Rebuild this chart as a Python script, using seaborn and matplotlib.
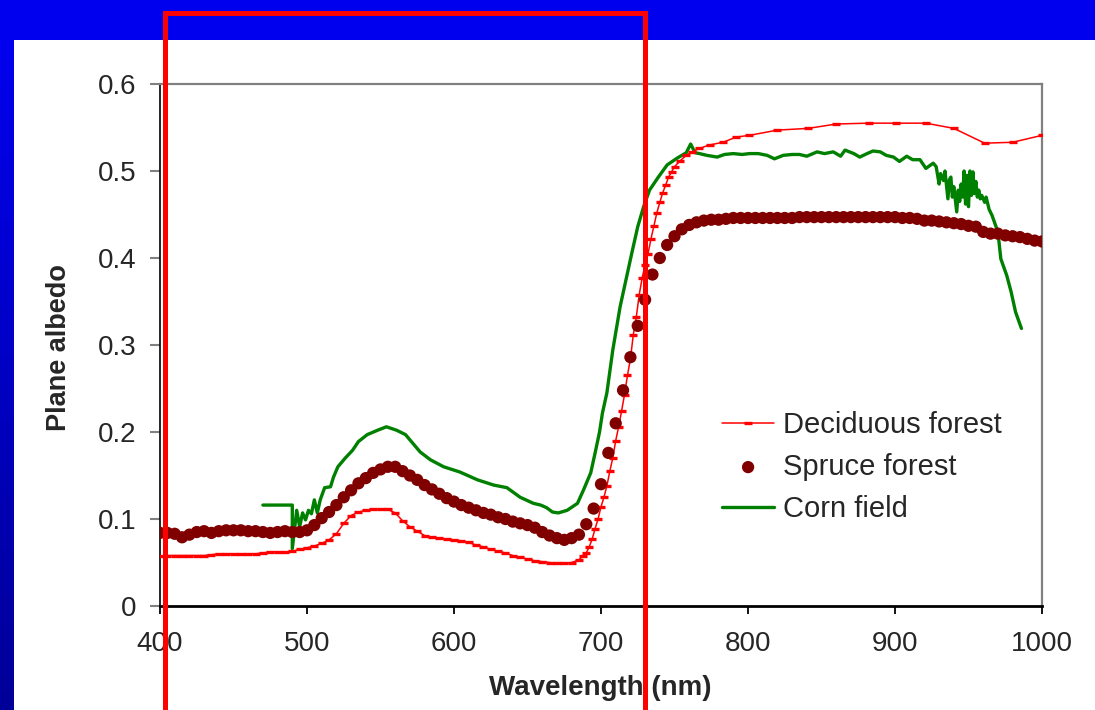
import numpy as np
import pandas as pd
import matplotlib
matplotlib.use("Agg")
import matplotlib.pyplot as plt
from matplotlib.patches import Rectangle
import seaborn as sns

# deciduous forest (red line with small dash markers)
dec_wl = [400, 405, 410, 415, 420, 425, 430, 435, 440, 445, 450, 455, 460, 465, 470, 475, 480, 485,
          490, 495, 500, 505, 510, 515, 520, 525, 530, 535, 540, 545, 550, 555, 560, 565, 570, 575,
          580, 585, 590, 595, 600, 605, 610, 615, 620, 625, 630, 635, 640, 645, 650, 655, 660, 665,
          670, 675, 680, 685, 688, 690, 692, 694, 696, 698, 700, 702, 704, 706, 708, 710, 712, 714,
          716, 718, 720, 722, 724, 726, 728, 730, 732, 734, 736, 738, 740, 742, 744, 746, 748, 750,
          754, 758, 762, 767, 774, 783, 792, 801, 820, 841, 860, 882, 901, 921, 940, 961, 980, 1000]
dec_val = [.057, .058, .058, .058, .058, .058, .058, .059, .060, .060, .060, .060, .060, .060, .061, .062, .062, .062,
           .063, .065, .067, .069, .072, .076, .083, .095, .104, .108, .110, .111, .111, .111, .107, .098, .091, .086,
           .081, .079, .078, .077, .076, .075, .073, .070, .068, .065, .063, .061, .058, .056, .054, .052, .051, .050,
           .049, .049, .050, .053, .058, .061, .068, .077, .089, .100, .114, .125, .138, .155, .170, .190, .206, .224,
           .243, .265, .284, .312, .332, .358, .377, .392, .405, .422, .437, .452, .464, .475, .484, .493, .499, .505,
           .512, .518, .522, .526, .530, .533, .539, .541, .547, .549, .554, .555, .555, .555, .549, .532, .533, .541]

# spruce forest (dark red dots, every 5 nm)
spr_wl = list(range(400, 1001, 5))
spr_val = [.084, .084, .083, .079, .082, .085, .086, .084, .086, .087, .087, .087, .086, .086, .085, .084,
           .085, .086, .085, .085, .087, .093, .101, .108, .116, .125, .133, .141, .147, .153, .157, .160,
           .160, .155, .150, .145, .139, .134, .129, .124, .120, .116, .113, .110, .107, .105, .102, .100,
           .097, .095, .093, .090, .085, .081, .078, .076, .078, .082, .094, .112, .140, .176, .210, .248,
           .286, .322, .352, .381, .400, .415, .425, .433, .438, .441, .443, .444, .444, .445, .446, .446,
           .446, .446, .446, .446, .446, .446, .446, .447, .447, .447, .447, .447, .447, .447, .447, .447,
           .447, .447, .447, .447, .447, .446, .446, .445, .443, .443, .442, .441, .440, .439, .437, .436,
           .430, .428, .428, .426, .425, .424, .422, .420, .419]

# corn field (green noisy line)
corn_wl = [470, 480, 490, 490, 493, 495, 497, 499, 501, 503, 505, 507, 509, 512, 516, 518, 521, 526,
           531, 535, 541, 548, 554, 561, 567, 572, 577, 584, 593, 604, 616, 627, 636, 645, 654, 659,
           663, 667, 671, 677, 684, 688, 693, 696, 699, 701, 704, 708, 713, 718, 721, 725, 729, 733,
           739, 745, 752, 758, 761, 764, 767, 772, 779, 784, 790, 796, 801, 807, 813, 818, 824, 830,
           835, 840, 847, 852, 858, 863, 866, 872, 876, 881, 885, 890, 894, 899, 903, 908, 912, 917,
           921, 926, 928, 930, 931, 933, 934, 936, 937, 938, 939, 940, 942, 943, 944, 945, 946, 947,
           948, 949, 950, 951, 952, 953, 954, 955, 956, 957, 958, 959, 961, 962, 964, 966, 970,
           972, 976, 979, 982, 986]
corn_val = [.116, .116, .116, .066, .110, .091, .107, .099, .110, .106, .122, .107, .122, .136, .137, .148, .160, .170,
            .179, .189, .197, .202, .206, .202, .197, .187, .177, .168, .160, .154, .145, .139, .136, .125, .118, .116,
            .113, .108, .107, .110, .118, .133, .153, .176, .200, .222, .245, .294, .344, .383, .406, .436, .459, .478,
            .493, .507, .515, .521, .531, .521, .520, .518, .516, .519, .520, .519, .520, .520, .518, .514, .518, .519,
            .519, .517, .522, .520, .522, .517, .524, .520, .516, .520, .523, .522, .518, .516, .511, .517, .513, .513,
            .503, .509, .505, .485, .497, .489, .500, .468, .490, .493, .470, .482, .453, .478, .465, .485, .470, .500,
            .462, .495, .459, .500, .472, .499, .474, .488, .470, .478, .468, .472, .464, .470, .456, .449, .430,
            .399, .380, .361, .338, .319]

x_ticks = [400, 500, 600, 700, 800, 900, 1000]
y_ticks = [0, 0.1, 0.2, 0.3, 0.4, 0.5, 0.6]

sns.set_style("white")
plt.rcParams['font.family'] = ['Liberation Sans', 'DejaVu Sans']

W, H = 1095, 710
fig = plt.figure(figsize=(W / 100, H / 100), dpi=100)
fig.patch.set_facecolor("white")

# blue slide background: top band + left gradient strip
fig.patches.append(Rectangle((0, 1 - 40 / H), 1, 40 / H, transform=fig.transFigure,
                             facecolor="#0000EE", edgecolor="none", zorder=-5))
bg = fig.add_axes([0, 0, 14 / W, 1 - 40 / H], zorder=-4)
grad = np.linspace(1, 0, 100).reshape(-1, 1)
bg.imshow(grad, aspect="auto", cmap=matplotlib.colors.LinearSegmentedColormap.from_list(
    "b", ["#000098", "#0000EE"]), extent=[0, 1, 0, 1])
bg.set_axis_off()

ax = fig.add_axes([160 / W, 1 - 606 / H, 882 / W, 522 / H])
ax.set_facecolor("white")

df_dec = pd.DataFrame({"wl": dec_wl, "val": dec_val})
df_spr = pd.DataFrame({"wl": spr_wl, "val": spr_val})
df_corn = pd.DataFrame({"wl": corn_wl, "val": corn_val})

sns.lineplot(data=df_dec, x="wl", y="val", ax=ax, estimator=None, sort=False,
             color="#FF0000", lw=1.1, marker="_", markersize=5.5, markeredgewidth=2.4,
             markeredgecolor="#FF0000", label="Deciduous forest", zorder=3)
sns.scatterplot(data=df_spr, x="wl", y="val", ax=ax, color="#800000", s=78,
                edgecolor="none", label="Spruce forest", zorder=4)
sns.lineplot(data=df_corn, x="wl", y="val", ax=ax, estimator=None, sort=False,
             color="#008000", lw=2.4, label="Corn field", zorder=2)

ax.set_xlim(400, 1000)
ax.set_ylim(0, 0.6)
ax.set_xticks(x_ticks)
ax.set_yticks(y_ticks)
ax.set_xticklabels([str(v) for v in x_ticks])
ax.set_yticklabels([f"{v:g}" for v in y_ticks])
ax.set_xlabel("")
ax.set_ylabel("")
ax.tick_params(axis="x", direction="out", length=6, width=1.3, color="black",
               labelsize=20, pad=12, bottom=True)
ax.tick_params(axis="y", direction="out", length=7, width=1.5, color="#808080",
               labelsize=20, pad=10, left=True)
for s in ["top", "right"]:
    ax.spines[s].set_color("#808080")
    ax.spines[s].set_linewidth(1.6)
ax.spines["left"].set_color("black")
ax.spines["left"].set_linewidth(1.2)
ax.spines["bottom"].set_color("black")
ax.spines["bottom"].set_linewidth(2)

leg = ax.legend(loc="upper left", bbox_to_anchor=(0.637, 0.374), frameon=False,
                fontsize=21, handlelength=1.8, handletextpad=0.3, labelspacing=0.48,
                borderaxespad=0, borderpad=0)

fig.text(600 / W, 1 - 688 / H, "Wavelength (nm)", ha="center", va="center",
         fontsize=20, fontweight="bold")
fig.text(59 / W, 1 - 348 / H, "Plane albedo", ha="center", va="center",
         rotation=90, fontsize=19.5, fontweight="bold")

# red highlight box over the visible band
fig.patches.append(Rectangle((164.5 / W, -0.05), (645 - 164.5) / W, 1.05 - 12.5 / H,
                             transform=fig.transFigure, facecolor="none",
                             edgecolor="#FF0000", lw=3.6, zorder=10))

fig.savefig("out.png", dpi=100)
